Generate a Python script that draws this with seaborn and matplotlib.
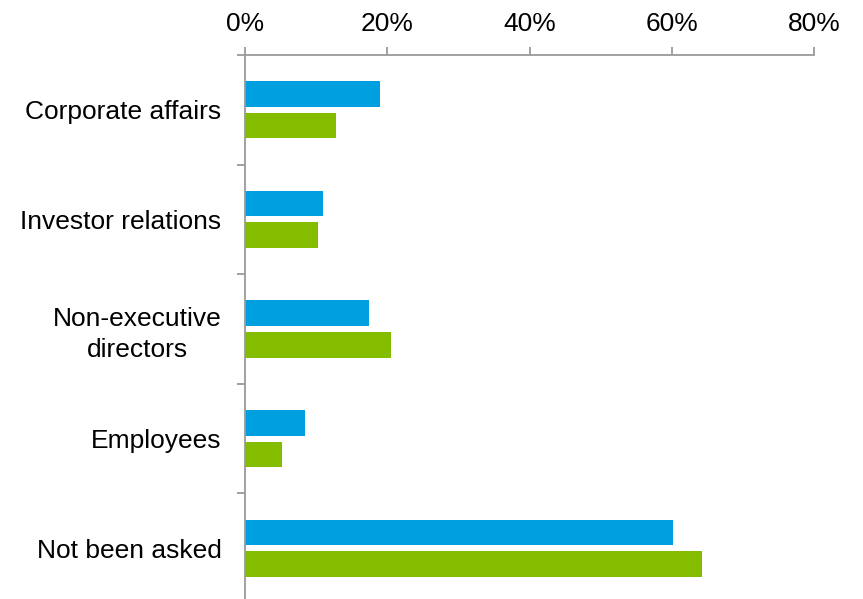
import matplotlib
matplotlib.use("Agg")
import matplotlib.pyplot as plt
from matplotlib.ticker import FixedLocator, PercentFormatter
import seaborn as sns
import pandas as pd

# Who has asked about the topic, share of respondents (%)
categories = ["Corporate affairs", "Investor relations", "Non-executive\ndirectors",
              "Employees", "Not been asked"]
series_names = ["Series A", "Series B"]
series_a = [19.0, 11.0, 17.5, 8.5, 60.2]
series_b = [12.8, 10.3, 20.5, 5.2, 64.2]
x_ticks = [0, 20, 40, 60, 80]

colors = ["#00A0E0", "#84BD00"]
axis_grey = "#9A9A9A"

df = pd.DataFrame({
    "category": categories * 2,
    "series": [series_names[0]] * len(categories) + [series_names[1]] * len(categories),
    "value": series_a + series_b,
})

sns.set_theme(style="white")
plt.rcParams["font.family"] = ["Liberation Sans", "DejaVu Sans"]

fig = plt.figure(figsize=(8.63, 5.99), dpi=100)
ax = fig.add_axes([245 / 863, 1 - 603 / 599, (814 - 245) / 863, (603 - 55) / 599])

sns.barplot(data=df, y="category", x="value", hue="series", orient="h",
            palette=colors, saturation=1, width=0.578, gap=0.19, legend=False,
            linewidth=0, ax=ax)

ax.set_xlim(0, 80)
ax.set_ylim(len(categories) - 0.5, -0.5)
ax.xaxis.set_major_locator(FixedLocator(x_ticks))
ax.xaxis.set_major_formatter(PercentFormatter(decimals=0))
ax.xaxis.tick_top()
ax.set_xlabel("")
ax.set_ylabel("")

for side in ["right", "bottom"]:
    ax.spines[side].set_visible(False)
for side in ["left", "top"]:
    ax.spines[side].set_color(axis_grey)
    ax.spines[side].set_linewidth(1.3)

ax.tick_params(axis="x", which="major", top=True, bottom=False, direction="out",
               length=6, width=1.3, color=axis_grey, labelsize=19, pad=8,
               labelcolor="black")
ax.tick_params(axis="y", which="major", left=False, length=0, labelsize=19,
               pad=17, labelcolor="black")
ax.yaxis.set_minor_locator(FixedLocator([i - 0.5 for i in range(len(categories) + 1)]))
ax.tick_params(axis="y", which="minor", left=True, direction="out", length=6,
               width=1.3, color=axis_grey)
for lbl in ax.get_yticklabels():
    lbl.set_multialignment("center")
    lbl.set_linespacing(1.35)

ax.grid(False)
fig.savefig("out.png", dpi=100)
